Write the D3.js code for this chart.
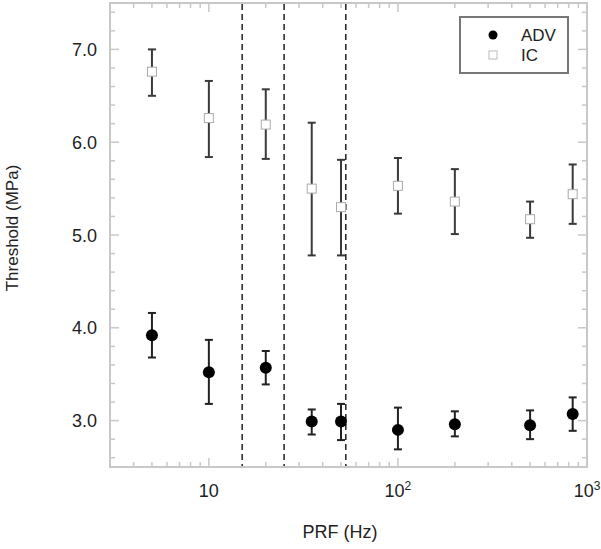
<!DOCTYPE html>
<html>
<head>
<meta charset="utf-8">
<script src="https://cdn.jsdelivr.net/npm/d3@7"></script>
<style>
  body { margin: 0; background: #fff; }
  text { font-family: "Liberation Sans", Arial, sans-serif; fill: #222; }
</style>
</head>
<body>
<div id="chart"></div>
<script>
// data
var prf = [5, 10, 20, 35, 50, 100, 200, 500, 840];
var advMean = [3.92, 3.52, 3.57, 2.99, 2.99, 2.90, 2.96, 2.95, 3.07];
var advLow  = [3.68, 3.18, 3.39, 2.85, 2.79, 2.69, 2.83, 2.80, 2.89];
var advHigh = [4.16, 3.87, 3.75, 3.12, 3.18, 3.14, 3.10, 3.11, 3.25];
var icMean = [6.76, 6.26, 6.19, 5.50, 5.30, 5.53, 5.36, 5.17, 5.44];
var icLow  = [6.50, 5.84, 5.82, 4.78, 4.78, 5.23, 5.01, 4.97, 5.12];
var icHigh = [7.00, 6.66, 6.57, 6.21, 5.81, 5.83, 5.71, 5.36, 5.76];
var dividers = [15, 25, 53];
var yTicks = [3, 4, 5, 6, 7];
var xTicks = [10, 100, 1000];
var xTickLabels = ["10", "10|2", "10|3"];

var width = 601, height = 549;
var margin = {top: 3, right: 14, bottom: 82, left: 110};

var svg = d3.select("#chart").append("svg")
    .attr("width", width)
    .attr("height", height);

var x = d3.scaleLog()
    .domain([3, 1000])
    .range([margin.left, width - margin.right]);
var y = d3.scaleLinear()
    .domain([2.5, 7.5])
    .range([height - margin.bottom, margin.top]);

var x0 = x.range()[0], x1 = x.range()[1];
var y0 = y.range()[0], y1 = y.range()[1];

// minor ticks
var xMinor = [];
[1, 10, 100].forEach(function(dec) {
    for (var k = 2; k <= 9; k++) {
        var v = k * dec;
        if (v > 3 && v < 1000 && xTicks.indexOf(v) < 0) xMinor.push(v);
    }
});
var yMinor = d3.range(2.6, 7.45, 0.2).filter(function(v) {
    return Math.abs(v - Math.round(v)) > 0.01;
});

var frame = svg.append("g").attr("stroke", "#c8c8c8").attr("stroke-width", 1.5);

frame.selectAll("line.xmin").data(xMinor).enter().append("line")
    .attr("x1", d => x(d)).attr("x2", d => x(d))
    .attr("y1", y0).attr("y2", y0 - 5);
frame.selectAll("line.xmint").data(xMinor).enter().append("line")
    .attr("x1", d => x(d)).attr("x2", d => x(d))
    .attr("y1", y1).attr("y2", y1 + 5);
frame.selectAll("line.xmaj").data(xTicks).enter().append("line")
    .attr("x1", d => x(d)).attr("x2", d => x(d))
    .attr("y1", y0).attr("y2", y0 - 9);
frame.selectAll("line.xmajt").data(xTicks).enter().append("line")
    .attr("x1", d => x(d)).attr("x2", d => x(d))
    .attr("y1", y1).attr("y2", y1 + 9);

frame.selectAll("line.ymin").data(yMinor).enter().append("line")
    .attr("x1", x0).attr("x2", x0 + 5)
    .attr("y1", d => y(d)).attr("y2", d => y(d));
frame.selectAll("line.yminr").data(yMinor).enter().append("line")
    .attr("x1", x1).attr("x2", x1 - 5)
    .attr("y1", d => y(d)).attr("y2", d => y(d));
frame.selectAll("line.ymaj").data(yTicks).enter().append("line")
    .attr("x1", x0).attr("x2", x0 + 9)
    .attr("y1", d => y(d)).attr("y2", d => y(d));
frame.selectAll("line.ymajr").data(yTicks).enter().append("line")
    .attr("x1", x1).attr("x2", x1 - 9)
    .attr("y1", d => y(d)).attr("y2", d => y(d));

frame.append("rect")
    .attr("x", x0).attr("y", y1)
    .attr("width", x1 - x0).attr("height", y0 - y1)
    .attr("fill", "none").attr("stroke-width", 2);

// tick labels
svg.selectAll("text.ylab").data(yTicks).enter().append("text")
    .attr("x", 97)
    .attr("y", d => y(d) + 6.5)
    .attr("text-anchor", "end")
    .style("font-size", "18px")
    .text(d => d.toFixed(1));

svg.selectAll("text.xlab").data(xTicks).enter().append("text")
    .attr("x", d => x(d))
    .attr("y", 497)
    .attr("text-anchor", "middle")
    .style("font-size", "18px")
    .each(function(d, i) {
        var parts = xTickLabels[i].split("|");
        var t = d3.select(this);
        t.append("tspan").text(parts[0]);
        if (parts[1]) {
            t.append("tspan").attr("dy", -7).style("font-size", "12px").text(parts[1]);
        }
    });

// axis titles
svg.append("text")
    .attr("x", 340).attr("y", 538)
    .attr("text-anchor", "middle")
    .style("font-size", "18px")
    .text("PRF (Hz)");

svg.append("text")
    .attr("transform", "translate(18,228) rotate(-90)")
    .attr("text-anchor", "middle")
    .style("font-size", "17px")
    .text("Threshold (MPa)");

// dashed dividers
svg.selectAll("line.div").data(dividers).enter().append("line")
    .attr("x1", d => x(d)).attr("x2", d => x(d))
    .attr("y1", y1 + 1).attr("y2", y0 - 1)
    .attr("stroke", "#222")
    .attr("stroke-width", 1.5)
    .attr("stroke-dasharray", "6,4");

// error bars
function errorBars(lo, hi, color) {
    var g = svg.append("g").attr("stroke", color).attr("stroke-width", 2);
    prf.forEach(function(p, i) {
        g.append("line")
            .attr("x1", x(p)).attr("x2", x(p))
            .attr("y1", y(lo[i])).attr("y2", y(hi[i]));
        [lo[i], hi[i]].forEach(function(v) {
            g.append("line")
                .attr("x1", x(p) - 4).attr("x2", x(p) + 4)
                .attr("y1", y(v)).attr("y2", y(v));
        });
    });
}
errorBars(icLow, icHigh, "#3a3a3a");
errorBars(advLow, advHigh, "#222");

svg.selectAll("rect.ic").data(prf).enter().append("rect")
    .attr("x", d => x(d) - 4.5)
    .attr("y", (d, i) => y(icMean[i]) - 4.5)
    .attr("width", 9).attr("height", 9)
    .attr("fill", "#fff")
    .attr("stroke", "#aaa")
    .attr("stroke-width", 1);

svg.selectAll("circle.adv").data(prf).enter().append("circle")
    .attr("cx", d => x(d))
    .attr("cy", (d, i) => y(advMean[i]))
    .attr("r", 6)
    .attr("fill", "#000");

// legend
var leg = svg.append("g");
leg.append("rect")
    .attr("x", 460).attr("y", 17)
    .attr("width", 108).attr("height", 56)
    .attr("fill", "#fff")
    .attr("stroke", "#777")
    .attr("stroke-width", 2);
leg.append("circle").attr("cx", 493).attr("cy", 35).attr("r", 4.5).attr("fill", "#000");
leg.append("rect").attr("x", 489).attr("y", 51).attr("width", 8).attr("height", 8)
    .attr("fill", "#fff").attr("stroke", "#bbb");
leg.append("text").attr("x", 521).attr("y", 41).style("font-size", "17px").text("ADV");
leg.append("text").attr("x", 521).attr("y", 61).style("font-size", "17px").text("IC");
</script>
</body>
</html>
